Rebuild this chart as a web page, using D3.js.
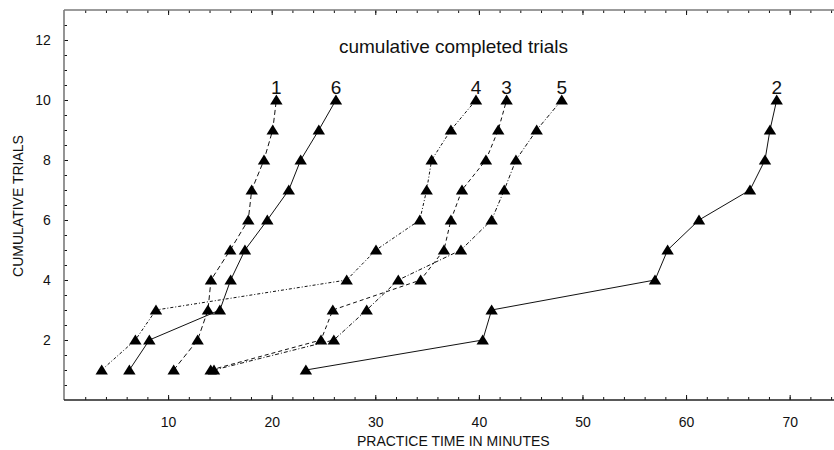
<!DOCTYPE html>
<html>
<head>
<meta charset="utf-8">
<script src="https://cdn.jsdelivr.net/npm/d3@7"></script>
<style>
  html, body { margin: 0; padding: 0; background: #fff; }
  svg { display: block; font-family: "Liberation Sans", Arial, sans-serif; }
</style>
</head>
<body>
<svg id="chart" width="834" height="450"></svg>
<script>
// Cumulative trial count (y) reached at each practice time in minutes (x)
const trials = [1, 2, 3, 4, 5, 6, 7, 8, 9, 10];

const series1 = [10.54, 12.85, 13.85, 14.14, 16.0, 17.74, 18.07, 19.26, 20.1, 20.45];
const series2 = [23.3, 40.37, 41.23, 57.0, 58.22, 61.25, 66.17, 67.62, 68.1, 68.75];
const series3 = [14.11, 24.76, 25.9, 34.38, 36.63, 37.3, 38.37, 40.68, 41.87, 42.68];
const series4 = [3.59, 6.84, 8.83, 27.24, 30.07, 34.3, 34.96, 35.44, 37.3, 39.72];
const series5 = [14.43, 26.0, 29.17, 32.22, 38.27, 41.23, 42.45, 43.58, 45.58, 48.0];
const series6 = [6.26, 8.19, 15.0, 16.04, 17.42, 19.58, 21.65, 22.8, 24.55, 26.2];

const seriesNames = ["1", "2", "3", "4", "5", "6"];
const seriesValues = [series1, series2, series3, series4, series5, series6];
const seriesDash = ["5,3", null, "4,3", "3,2,1,2", "4,2,1,2", null];

const xMajorTicks = [10, 20, 30, 40, 50, 60, 70];
const xMinorTicks = d3.range(2, 75, 2);
const yMajorTicks = [2, 4, 6, 8, 10, 12];
const yMinorTicks = d3.range(0.5, 13, 0.5);

const titleText = "cumulative completed trials";
const xTitle = "PRACTICE TIME IN MINUTES";
const yTitle = "CUMULATIVE TRIALS";

const svg = d3.select("#chart");
const plotLeft = 64, plotRight = 834, plotTop = 10, plotBottom = 400;

const x = d3.scaleLinear().domain([0, 74]).range([64.5, 831.1]);
const y = d3.scaleLinear().domain([0, 13]).range([plotBottom, plotTop]);

const ink = "#111";

// ---- axes (ticks point inward) ----
function styleAxis(g) {
  g.select(".domain").remove();
  g.selectAll(".tick line").attr("stroke", ink).attr("stroke-width", 1);
  g.selectAll(".tick text").attr("fill", ink).style("font-size", "14px")
    .style("font-family", "'Liberation Sans', Arial, sans-serif");
}

// bottom
svg.append("g").attr("transform", `translate(0,${plotBottom})`)
  .call(d3.axisBottom(x).tickValues(xMinorTicks).tickSizeInner(-3).tickSizeOuter(0).tickFormat(""))
  .call(styleAxis);
svg.append("g").attr("transform", `translate(0,${plotBottom})`)
  .call(d3.axisBottom(x).tickValues(xMajorTicks).tickSizeInner(-5).tickSizeOuter(0).tickPadding(16.8).tickFormat(d3.format("d")))
  .call(styleAxis);

// top
svg.append("g").attr("transform", `translate(0,${plotTop})`)
  .call(d3.axisTop(x).tickValues(xMinorTicks).tickSizeInner(-3).tickSizeOuter(0).tickFormat(""))
  .call(styleAxis);
svg.append("g").attr("transform", `translate(0,${plotTop})`)
  .call(d3.axisTop(x).tickValues(xMajorTicks).tickSizeInner(-5).tickSizeOuter(0).tickFormat(""))
  .call(styleAxis);

// left
svg.append("g").attr("transform", `translate(${plotLeft},0)`)
  .call(d3.axisLeft(y).tickValues(yMinorTicks).tickSizeInner(-3).tickSizeOuter(0).tickFormat(""))
  .call(styleAxis);
svg.append("g").attr("transform", `translate(${plotLeft},0)`)
  .call(d3.axisLeft(y).tickValues(yMajorTicks).tickSizeInner(-4).tickSizeOuter(0).tickPadding(13.3).tickFormat(d3.format("d")))
  .call(styleAxis);

// frame lines
svg.append("line").attr("x1", plotLeft).attr("x2", plotRight).attr("y1", plotTop).attr("y2", plotTop)
  .attr("stroke", "#7a7a7a").attr("stroke-width", 1.5);
svg.append("line").attr("x1", plotLeft).attr("x2", plotLeft).attr("y1", plotTop).attr("y2", plotBottom)
  .attr("stroke", "#7a7a7a").attr("stroke-width", 1.6);
svg.append("line").attr("x1", plotLeft).attr("x2", plotRight).attr("y1", plotBottom).attr("y2", plotBottom)
  .attr("stroke", "#222").attr("stroke-width", 1.3);

// ---- titles ----
svg.append("text").attr("x", 453.5).attr("y", 53).attr("text-anchor", "middle")
  .attr("fill", ink).style("font-size", "19px").text(titleText);
svg.append("text").attr("x", 453.3).attr("y", 446).attr("text-anchor", "middle")
  .attr("fill", ink).style("font-size", "14px").text(xTitle);
svg.append("text").attr("transform", "translate(23,206) rotate(-90)").attr("text-anchor", "middle")
  .attr("fill", ink).style("font-size", "14px").text(yTitle);

// ---- series ----
const line = d3.line().x(d => x(d[0])).y(d => y(d[1]));
const tri = "M0,-5.5L6.2,4.5L-6.2,4.5Z";

seriesValues.forEach((vals, i) => {
  const pts = vals.map((v, k) => [v, trials[k]]);
  const g = svg.append("g");
  g.append("path").datum(pts).attr("d", line)
    .attr("fill", "none").attr("stroke", ink).attr("stroke-width", 1)
    .attr("stroke-dasharray", seriesDash[i]);
  g.selectAll("path.mark").data(pts).join("path").attr("class", "mark")
    .attr("d", tri).attr("fill", "#000")
    .attr("transform", d => `translate(${x(d[0])},${y(d[1])})`);
  const last = pts[pts.length - 1];
  g.append("text").attr("x", x(last[0])).attr("y", y(last[1]) - 6)
    .attr("text-anchor", "middle").attr("fill", ink).style("font-size", "19px")
    .text(seriesNames[i]);
});
</script>
</body>
</html>
